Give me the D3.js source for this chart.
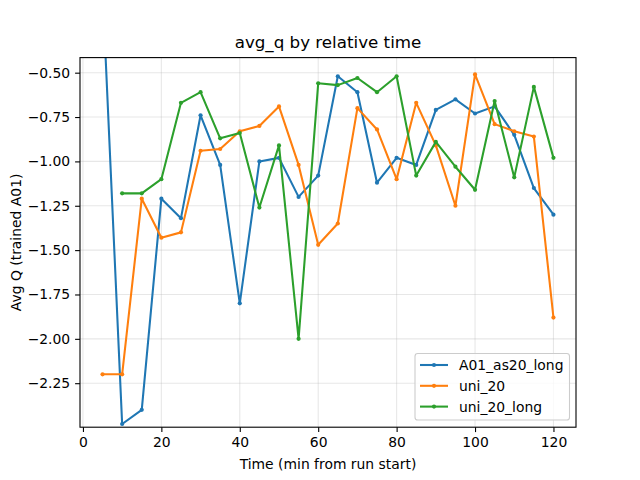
<!DOCTYPE html>
<html>
<head>
<meta charset="utf-8">
<script src="https://cdn.jsdelivr.net/npm/d3@7"></script>
<style>
  body { margin: 0; background: #fff; }
  svg { font-family: "DejaVu Sans", sans-serif; }
</style>
</head>
<body>
<svg id="chart" width="640" height="480"></svg>
<script>
// data
const timesA = [5, 10, 15, 20, 25, 30, 35, 40, 45, 50, 55, 60, 65, 70, 75, 80, 85, 90, 95, 100, 105, 110, 115, 120];
const a01As20Long = [-0.03, -2.48, -2.40, -1.21, -1.32, -0.74, -1.02, -1.80, -1.00, -0.98, -1.20, -1.08, -0.52, -0.61, -1.12, -0.98, -1.02, -0.71, -0.65, -0.73, -0.69, -0.85, -1.15, -1.30];

const timesU = [5, 10, 15, 20, 25, 30, 35, 40, 45, 50, 55, 60, 65, 70, 75, 80, 85, 90, 95, 100, 105, 110, 115, 120];
const uni20 = [-2.20, -2.20, -1.21, -1.43, -1.40, -0.94, -0.93, -0.83, -0.80, -0.69, -1.02, -1.47, -1.35, -0.70, -0.82, -1.10, -0.67, -0.91, -1.25, -0.51, -0.79, -0.83, -0.86, -1.88];

const timesUL = [10, 15, 20, 25, 30, 35, 40, 45, 50, 55, 60, 65, 70, 75, 80, 85, 90, 95, 100, 105, 110, 115, 120];
const uni20Long = [-1.18, -1.18, -1.10, -0.67, -0.61, -0.87, -0.84, -1.26, -0.91, -2.00, -0.56, -0.57, -0.53, -0.61, -0.52, -1.08, -0.89, -1.03, -1.16, -0.66, -1.09, -0.58, -0.98];

const seriesNames = ["A01_as20_long", "uni_20", "uni_20_long"];
const seriesColors = ["#1f77b4", "#ff7f0e", "#2ca02c"];
const xTicks = [0, 20, 40, 60, 80, 100, 120];
const yTicks = [-0.5, -0.75, -1.0, -1.25, -1.5, -1.75, -2.0, -2.25];

const series = [
    { name: seriesNames[0], color: seriesColors[0], pts: timesA.map((t, i) => [t, a01As20Long[i]]) },
    { name: seriesNames[1], color: seriesColors[1], pts: timesU.map((t, i) => [t, uni20[i]]) },
    { name: seriesNames[2], color: seriesColors[2], pts: timesUL.map((t, i) => [t, uni20Long[i]]) }
];

const plotL = 80, plotR = 576, plotT = 57.6, plotB = 427.2;
const markR = 2.1;
const svg = d3.select("#chart");

const x = d3.scaleLinear().domain([-0.75, 125.75]).range([plotL, plotR]);
const y = d3.scaleLinear().domain([-2.498, -0.415]).range([plotB, plotT]);

svg.append("defs").append("clipPath").attr("id", "clip")
    .append("rect").attr("x", plotL).attr("y", plotT)
    .attr("width", plotR - plotL).attr("height", plotB - plotT);

// grid
const grid = svg.append("g");
xTicks.forEach(t => {
    grid.append("line").attr("x1", x(t)).attr("x2", x(t)).attr("y1", plotT).attr("y2", plotB)
        .attr("stroke", "#b0b0b0").attr("stroke-opacity", 0.3).attr("stroke-width", 1.1);
});
yTicks.forEach(t => {
    grid.append("line").attr("x1", plotL).attr("x2", plotR).attr("y1", y(t)).attr("y2", y(t))
        .attr("stroke", "#b0b0b0").attr("stroke-opacity", 0.3).attr("stroke-width", 1.1);
});

// lines + markers
const line = d3.line().x(d => x(d[0])).y(d => y(d[1]));
const plot = svg.append("g").attr("clip-path", "url(#clip)");
series.forEach(s => {
    plot.append("path").datum(s.pts).attr("d", line)
        .attr("fill", "none").attr("stroke", s.color).attr("stroke-width", 2.08)
        .attr("stroke-linejoin", "round").attr("stroke-linecap", "square");
    plot.selectAll(null).data(s.pts).enter().append("circle")
        .attr("cx", d => x(d[0])).attr("cy", d => y(d[1])).attr("r", markR)
        .attr("fill", s.color);
});

// axes
const fmtY = d => d3.format(".2f")(d).replace("-", "\u2212");
const xAxis = svg.append("g").attr("transform", `translate(0,${plotB})`)
    .call(d3.axisBottom(x).tickValues(xTicks).tickSize(4.9).tickPadding(4.9).tickFormat(d3.format("d")));
const yAxis = svg.append("g").attr("transform", `translate(${plotL},0)`)
    .call(d3.axisLeft(y).tickValues(yTicks).tickSize(4.9).tickPadding(4.9).tickFormat(fmtY));
[xAxis, yAxis].forEach(g => {
    g.select(".domain").remove();
    g.selectAll(".tick line").attr("stroke", "#000").attr("stroke-width", 1.1);
    g.selectAll(".tick text").attr("fill", "#000").attr("font-size", 13.9)
        .attr("font-family", "DejaVu Sans, sans-serif");
});

// frame
svg.append("rect").attr("x", plotL).attr("y", plotT)
    .attr("width", plotR - plotL).attr("height", plotB - plotT)
    .attr("fill", "none").attr("stroke", "#000").attr("stroke-width", 1.1);

// text
svg.append("text").attr("x", (plotL + plotR) / 2).attr("y", 48)
    .attr("text-anchor", "middle").attr("font-size", 16.7).text("avg_q by relative time");
svg.append("text").attr("x", (plotL + plotR) / 2).attr("y", 469)
    .attr("text-anchor", "middle").attr("font-size", 13.9).text("Time (min from run start)");
svg.append("text").attr("transform", `translate(21,${(plotT + plotB) / 2}) rotate(-90)`)
    .attr("text-anchor", "middle").attr("font-size", 13.9).text("Avg Q (trained A01)");

// legend
const lg = svg.append("g");
lg.append("rect").attr("x", 415).attr("y", 353.5).attr("width", 154.5).attr("height", 66.5)
    .attr("rx", 2.8).attr("fill", "#fff").attr("fill-opacity", 0.8)
    .attr("stroke", "#cccccc").attr("stroke-width", 1.1);
series.forEach((s, i) => {
    const ly = 365 + i * 20.8;
    lg.append("line").attr("x1", 420).attr("x2", 448).attr("y1", ly).attr("y2", ly)
        .attr("stroke", s.color).attr("stroke-width", 2.08);
    lg.append("circle").attr("cx", 434).attr("cy", ly).attr("r", markR).attr("fill", s.color);
    lg.append("text").attr("x", 459).attr("y", ly + 5).attr("font-size", 13.9).text(s.name);
});
</script>
</body>
</html>
